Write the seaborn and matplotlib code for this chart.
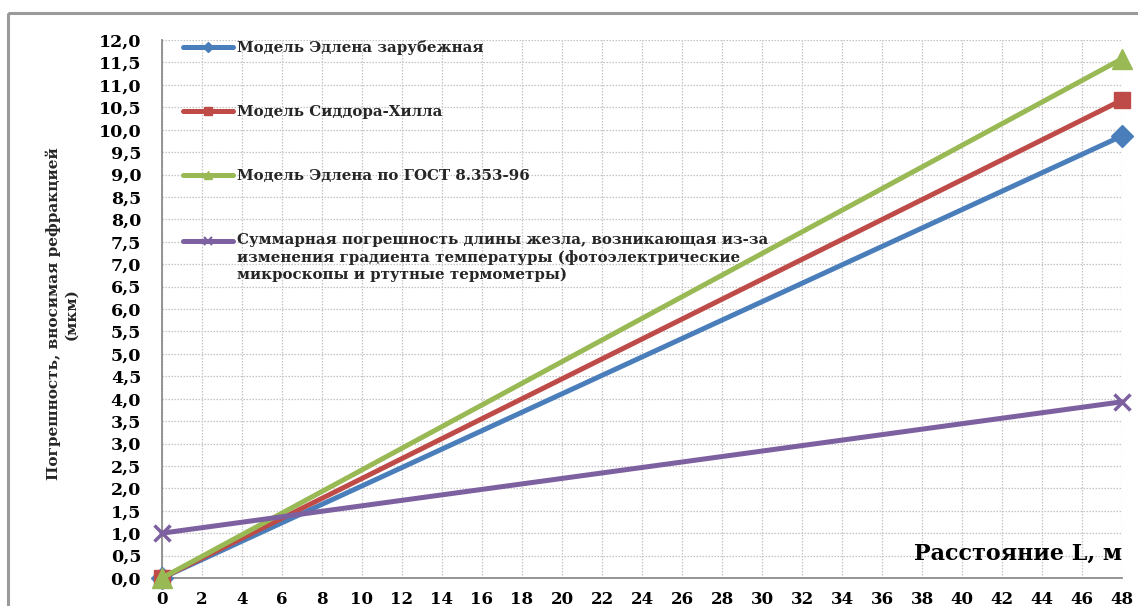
import numpy as np
import pandas as pd
import matplotlib
matplotlib.use("Agg")
import matplotlib.pyplot as plt
from matplotlib.lines import Line2D
from matplotlib.patches import Rectangle
import seaborn as sns

# Distance along the rod, m
distance = [0, 48]

# Errors introduced by refraction, µm
edlen_foreign = [0.0, 9.86]
siddor_hill = [0.0, 10.66]
edlen_gost = [0.0, 11.58]
rod_length_total = [1.0, 3.93]

series_names = [
    "Модель Эдлена зарубежная",
    "Модель Сиддора-Хилла",
    "Модель Эдлена по ГОСТ 8.353-96",
    "Суммарная погрешность длины жезла, возникающая из-за\n"
    "изменения градиента температуры (фотоэлектрические\n"
    "микроскопы и ртутные термометры)",
]
series_values = [edlen_foreign, siddor_hill, edlen_gost, rod_length_total]
colors = ["#4A7EBB", "#BE4B48", "#98B954", "#7D60A0"]
markers = ["D", "s", "^", "x"]
end_sizes = [11, 12, 14, 12]
legend_sizes = [5, 6, 6, 6]

x_ticks = list(range(0, 49, 2))
y_ticks = [i * 0.5 for i in range(0, 25)]

sns.set_style("white")
plt.rcParams["font.family"] = ["DejaVu Serif"]
plt.rcParams["font.weight"] = "bold"

W, H = 1138, 606
fig = plt.figure(figsize=(W / 100, H / 100), dpi=100)
ax = fig.add_axes([162 / W, 1 - 578 / H, (1122 - 162) / W, (578 - 40) / H])

# outer chart frame
fig.patches.append(Rectangle((8 / W, 1 - 13 / H), 1.2, -1.2,
                             transform=fig.transFigure, fill=False,
                             edgecolor="#9a9a9a", linewidth=2.2, zorder=0))

for name, vals, c, m, ms in zip(series_names, series_values, colors, markers, end_sizes):
    df = pd.DataFrame({"L": distance, "err": vals})
    sns.lineplot(data=df, x="L", y="err", ax=ax, color=c, linewidth=3.6,
                 marker=m, markersize=ms, markeredgecolor=c,
                 markeredgewidth=2.5 if m == "x" else 1, clip_on=False,
                 zorder=3, legend=False)

ax.set_xlim(0, 48)
ax.set_ylim(0, 12)
ax.set_xticks(x_ticks)
ax.set_yticks(y_ticks)
ax.set_xticklabels([str(v) for v in x_ticks])
ax.set_yticklabels([f"{v:.1f}".replace(".", ",") for v in y_ticks])
ax.tick_params(axis="both", colors="#8c8c8c", labelcolor="black",
               length=7, width=1.2, direction="out")
ax.tick_params(axis="x", labelsize=12, pad=2)
ax.tick_params(axis="y", labelsize=12.5, pad=8)
for lab in ax.get_xticklabels() + ax.get_yticklabels():
    lab.set_fontweight("bold")

ax.grid(True, color="#c4c4c4", linestyle=(0, (1.2, 1.2)), linewidth=0.9)
for side in ["top", "right"]:
    ax.spines[side].set_visible(False)
for side in ["left", "bottom"]:
    ax.spines[side].set_color("#8c8c8c")
    ax.spines[side].set_linewidth(1.3)

ax.set_xlabel("")
ax.set_ylabel("")
ax.text(1.0, 0.045, "Расстояние L, м", transform=ax.transAxes, ha="right",
        va="center", fontsize=16, fontweight="bold", color="black")
fig.text(62 / W, 1 - 314 / H, "Погрешность, вносимая рефракцией\n(мкм)",
         rotation=90, ha="center", va="center", fontsize=11,
         fontweight="bold", linespacing=1.25)

handles = [Line2D([], [], color=c, linewidth=3.6, marker=m, markersize=s,
                  markeredgecolor=c, markeredgewidth=1.5 if m == "x" else 1)
           for c, m, s in zip(colors, markers, legend_sizes)]
leg = ax.legend(handles, series_names, loc="upper left",
                bbox_to_anchor=(21 / 960, 1.0), frameon=False,
                fontsize=10.8, handlelength=3.3, handletextpad=0.3,
                labelspacing=3.33, borderaxespad=0.0, borderpad=0.0)
for t in leg.get_texts():
    t.set_fontweight("bold")
    t.set_linespacing(1.27)

# keep the last entry's marker level with the first line of its label
fig.canvas.draw()
last_text = leg.get_texts()[3]
bb = last_text.get_window_extent()
line_h = bb.height / 3
target_y = bb.y1 - line_h / 2
last = leg.legend_handles[3]
cur_y = last.get_transform().transform((0, last.get_ydata()[0]))[1]
last.set_ydata(np.asarray(last.get_ydata()) + (target_y - cur_y) * 72 / fig.dpi)

fig.savefig("out.png", dpi=100, facecolor="white")
